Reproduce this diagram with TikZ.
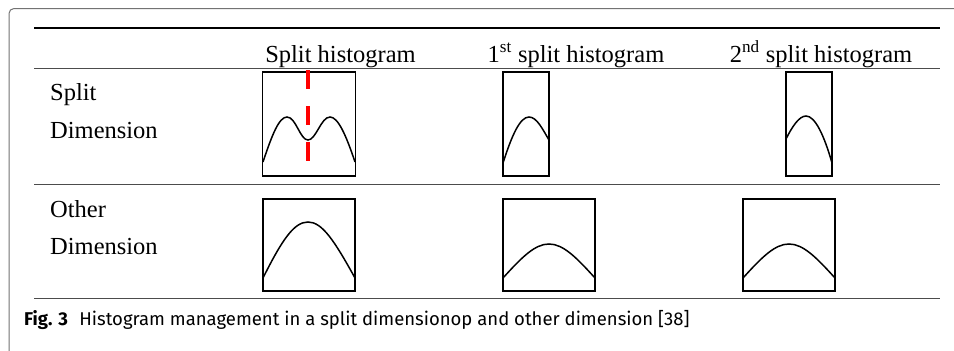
\documentclass[tikz,border=0pt]{standalone}
\usepackage{fontspec}
\setmainfont{Liberation Serif}
\newfontfamily\capfont{Fira Sans}
\begin{document}
\begin{tikzpicture}[x=1pt,y=-1pt,
  hbox/.style={draw=black,line width=1.5pt,inner sep=0pt,outer sep=0pt,rectangle},
  curve/.style={line width=1.5pt,black},
  thinrule/.style={line width=1.3pt,black!70},
  hdr/.style={anchor=base,inner sep=0pt,font=\fontsize{24.5}{28}\selectfont},
  lbl/.style={anchor=base west,inner sep=0pt,font=\fontsize{24.5}{28}\selectfont},
  splitline/.style={red,line width=4pt,dash pattern=on 19pt off 17pt}]
\useasboundingbox[fill=white] (0,0) rectangle (954,351);
% frame
\draw[black!55,line width=1pt,rounded corners=5pt] (9,352) -- (9,8.5) -- (955,8.5);
% rules
\coordinate (r0a) at (34,28); \coordinate (r0b) at (940,28);
\coordinate (r1a) at (34,68.5); \coordinate (r1b) at (940,68.5);
\coordinate (r2a) at (34,184.5); \coordinate (r2b) at (940,184.5);
\coordinate (r3a) at (34,298.5); \coordinate (r3b) at (940,298.5);
\draw[line width=2.6pt,black] (r0a) -- (r0b);
\draw[thinrule] (r1a) -- (r1b);
\draw[thinrule] (r2a) -- (r2b);
\draw[thinrule] (r3a) -- (r3b);
% headers
\node[hdr] (h1) at (340.5,62) {Split histogram};
\node[hdr] (h2) at (576,62) {1\textsuperscript{st} split histogram};
\node[hdr] (h3) at (821,62) {2\textsuperscript{nd} split histogram};
% row labels
\node[lbl] (l1a) at (50,100) {Split};
\node[lbl] (l1b) at (50,138) {Dimension};
\node[lbl] (l2a) at (50,217) {Other};
\node[lbl] (l2b) at (50,254) {Dimension};
% row 1 boxes
\node[hbox,minimum width=93pt,minimum height=104pt] (b11) at (309,124) {};
\node[hbox,minimum width=46pt,minimum height=104pt] (b12) at (526,124) {};
\node[hbox,minimum width=46pt,minimum height=104pt] (b13) at (809,124) {};
% row 2 boxes
\node[hbox,minimum width=92pt,minimum height=92pt] (b21) at (309,245) {};
\node[hbox,minimum width=92pt,minimum height=92pt] (b22) at (549,245) {};
\node[hbox,minimum width=92pt,minimum height=92pt] (b23) at (789,245) {};
% split line
\coordinate (s0) at (308,70); \coordinate (s1) at (308,162);
\draw[splitline] (s0) -- (s1);
% row 1 curves
\draw[curve] (263,162) .. controls (272,135) and (279,117) .. (287,117)
  .. controls (296,117) and (300,140) .. (308,140)
  .. controls (316,140) and (321,117) .. (330,117)
  .. controls (338,117) and (346,135) .. (355,162);
\draw[curve] (503,163) .. controls (512,135) and (520,117) .. (529,117)
  .. controls (537,117) and (543,130) .. (549,140);
\draw[curve] (786,139) .. controls (792,127) and (799,116) .. (806,116)
  .. controls (815,116) and (824,135) .. (832,163);
% row 2 curves
\draw[curve] (263,278) .. controls (282,240) and (294,222) .. (308,222)
  .. controls (322,222) and (334,240) .. (355,278);
\draw[curve] (503,278) .. controls (522,257) and (535,244) .. (549,244)
  .. controls (563,244) and (576,257) .. (595,278);
\draw[curve] (743,278) .. controls (762,257) and (775,244) .. (789,244)
  .. controls (803,244) and (816,257) .. (835,278);
% caption
\node[anchor=base west,inner sep=0pt,font=\capfont\fontsize{18.5}{22}\selectfont] (cap) at (24,325)
  {\textbf{Fig. 3}\hspace{0.35em} Histogram management in a split dimensionop and other dimension [38]};
\end{tikzpicture}
\end{document}
